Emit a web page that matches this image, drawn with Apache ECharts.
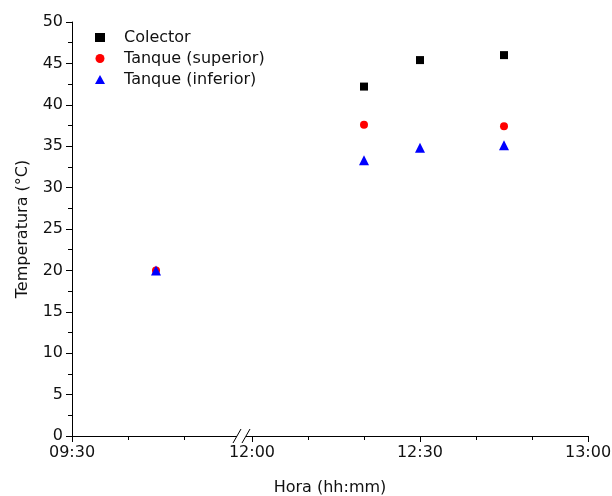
<!DOCTYPE html>
<html><head><meta charset="utf-8">
<script src="https://cdn.jsdelivr.net/npm/echarts@6/dist/echarts.min.js"></script>
<style>html,body{margin:0;padding:0;background:#fff}#c{width:612px;height:496px}</style>
</head><body><div id="c"></div>
<script>
// Data (times as hh:mm, temperatures in °C)
const colectorTimes = ['12:20', '12:30', '12:45'];
const colectorValues = [42.2, 45.4, 46.0];
const superiorTimes = ['09:45', '12:20', '12:45'];
const superiorValues = [20.0, 37.6, 37.4];
const inferiorTimes = ['09:45', '12:20', '12:30', '12:45'];
const inferiorValues = [20.0, 33.3, 34.8, 35.1];
const majorTickLabels = ['09:30', '12:00', '12:30', '13:00'];
const minorTickTimes = ['09:40', '09:50', '12:10', '12:20', '12:40', '12:50'];

// Broken axis: 09:30-10:00 segment, then 12:00-13:00 segment
const BREAK_OFFSET = 32.14; // axis units where 12:00 sits
function toAxis(t) {
  const [h, m] = t.split(':').map(Number);
  const mins = h * 60 + m;
  if (mins < 11 * 60) return mins - (9 * 60 + 30);
  return mins - 12 * 60 + BREAK_OFFSET;
}
const labelMap = {};
majorTickLabels.forEach(t => { labelMap[toAxis(t).toFixed(2)] = t; });
const pairs = (ts, vs) => ts.map((t, i) => [toAxis(t), vs[i]]);

const font = 'DejaVu Sans, sans-serif';
const fs = 16;
const chart = echarts.init(document.getElementById('c'));
const option = {
  backgroundColor: '#fff',
  animation: false,
  grid: { left: 72, right: 24, top: 22, bottom: 60, outerBoundsMode: 'none', containLabel: false },
  legend: {
    orient: 'vertical', left: 90, top: 24, itemWidth: 10, itemHeight: 9, itemGap: 4,
    itemStyle: { opacity: 1 },
    textStyle: { fontFamily: font, fontSize: fs, color: '#111', padding: [0, 0, 0, 14], lineHeight: 17 },
    data: ['Colector', 'Tanque (superior)', 'Tanque (inferior)']
  },
  xAxis: [{
    type: 'value', min: 0, max: BREAK_OFFSET + 60,
    name: 'Hora (hh:mm)', nameLocation: 'middle', nameGap: 44,
    nameTextStyle: { fontFamily: font, fontSize: fs, color: '#111' },
    splitLine: { show: false },
    axisLine: { lineStyle: { color: '#000', width: 1 } },
    axisTick: { inside: false, length: 6, lineStyle: { color: '#000' }, customValues: majorTickLabels.map(toAxis) },
    axisLabel: { fontFamily: font, fontSize: fs, color: '#111', margin: 9,
      customValues: majorTickLabels.map(toAxis),
      formatter: v => labelMap[v.toFixed(2)] || '' }
  }, {
    type: 'value', min: 0, max: BREAK_OFFSET + 60, position: 'bottom',
    splitLine: { show: false }, axisLine: { show: false },
    axisTick: { length: 4, lineStyle: { color: '#000' }, customValues: minorTickTimes.map(toAxis) },
    axisLabel: { show: false }
  }],
  yAxis: {
    type: 'value', min: 0, max: 50, interval: 5,
    name: 'Temperatura (°C)', nameLocation: 'middle', nameGap: 41,
    nameTextStyle: { fontFamily: font, fontSize: fs, color: '#111' },
    splitLine: { show: false },
    axisLine: { show: true, lineStyle: { color: '#000', width: 1 } },
    axisTick: { show: true, length: 6, lineStyle: { color: '#000' } },
    minorTick: { show: true, splitNumber: 2, length: 4, lineStyle: { color: '#000' } },
    axisLabel: { fontFamily: font, fontSize: fs, color: '#111', margin: 9 }
  },
  series: [
    { name: 'Colector', type: 'scatter', symbol: 'rect', symbolSize: 8,
      itemStyle: { color: '#000', opacity: 1 }, data: pairs(colectorTimes, colectorValues) },
    { name: 'Tanque (superior)', type: 'scatter', symbol: 'circle', symbolSize: 8,
      itemStyle: { color: '#ff0000', opacity: 1 }, data: pairs(superiorTimes, superiorValues) },
    { name: 'Tanque (inferior)', type: 'scatter', symbol: 'triangle', symbolSize: 10,
      itemStyle: { color: '#0000ff', opacity: 1 }, data: pairs(inferiorTimes, inferiorValues) }
  ]
};
chart.setOption(option);

// Axis break marks "//"
const p0 = chart.convertToPixel({ xAxisIndex: 0, yAxisIndex: 0 }, [toAxis('09:30') + 30, 0]);
const bx = p0[0] - 1, by = p0[1];
chart.setOption({
  graphic: [
    { type: 'rect', shape: { x: bx - 2, y: by - 2, width: 9, height: 4 }, style: { fill: '#fff' }, z: 100 },
    { type: 'line', shape: { x1: bx - 6, y1: by + 7, x2: bx + 2, y2: by - 7 }, style: { stroke: '#000', lineWidth: 1 }, z: 101 },
    { type: 'line', shape: { x1: bx + 3, y1: by + 7, x2: bx + 11, y2: by - 7 }, style: { stroke: '#000', lineWidth: 1 }, z: 101 }
  ]
});
</script></body></html>
